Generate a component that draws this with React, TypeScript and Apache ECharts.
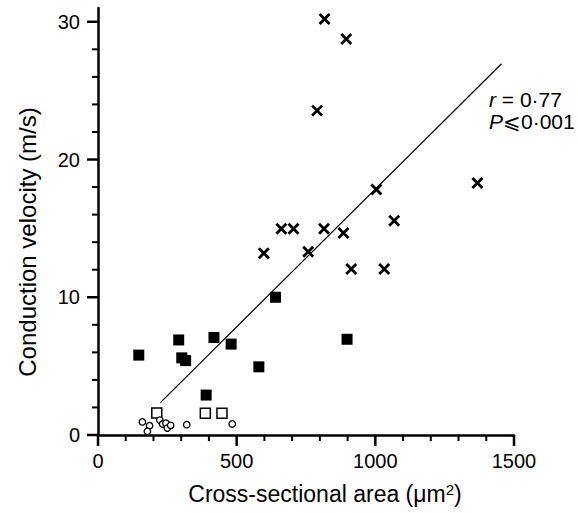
import React, { useEffect, useRef } from "react";
import * as echarts from "echarts";

// Filled squares [area, velocity]
const filledSquares: number[][] = [
  [147, 5.8], [291, 6.9], [302, 5.6], [316, 5.4], [418, 7.08],
  [480, 6.6], [580, 4.95], [640, 10.0], [390, 2.9], [898, 6.95],
];
// Open squares
const openSquares: number[][] = [
  [212, 1.6], [387, 1.57], [447, 1.57],
];
// Open circles
const openCircles: number[][] = [
  [160, 0.95], [186, 0.68], [178, 0.27], [223, 1.08], [233, 0.8],
  [245, 0.86], [250, 0.5], [262, 0.7], [320, 0.75], [484, 0.8],
];
// Crosses
const crosses: number[][] = [
  [817, 30.2], [895, 28.75], [790, 23.55], [1004, 17.82], [1368, 18.3],
  [661, 14.97], [705, 14.97], [815, 14.97], [885, 14.67], [1068, 15.55],
  [598, 13.2], [758, 13.3], [913, 12.05], [1032, 12.05],
];
// Regression line end points
const regressionLine: number[][] = [
  [225, 2.35], [1455, 26.95],
];
// Tick values
const xMajorTicks = [0, 500, 1000, 1500];
const xMinorTicks = [100, 200, 300, 400, 600, 700, 800, 900, 1100, 1200, 1300, 1400];
const yMajorTicks = [0, 10, 20, 30];
const yMinorTicks = [2, 4, 6, 8, 12, 14, 16, 18, 22, 24, 26, 28];

const annotationLines = ["{i|r} = 0·77", "{i|P}⩽0·001"];
const xTitle = "Cross-sectional area (μm{s|2})";
const yTitle = "Conduction velocity (m/s)";

const FONT = "'Liberation Sans', Arial, Helvetica, sans-serif";
const CROSS = "path://M0,0L10,10M10,0L0,10";

function tickSeries(values: number[], dir: "x" | "y", len: number, width: number) {
  return {
    type: "custom",
    silent: true,
    clip: false,
    z: 5,
    data: values.map((v) => (dir === "x" ? [v, 0] : [0, v])),
    renderItem: (_params: any, api: any) => {
      const p = api.coord([api.value(0), api.value(1)]);
      const shape =
        dir === "x"
          ? { x1: p[0], y1: p[1], x2: p[0], y2: p[1] + len }
          : { x1: p[0], y1: p[1], x2: p[0] - len, y2: p[1] };
      return { type: "line", shape, style: { stroke: "#000", lineWidth: width } };
    },
  };
}

export default function App() {
  const ref = useRef<HTMLDivElement>(null);
  useEffect(() => {
    document.body.style.margin = "0";
    const chart = echarts.init(ref.current!, undefined, { renderer: "svg" });
    chart.setOption({
      animation: false,
      backgroundColor: "#fff",
      textStyle: { fontFamily: FONT, color: "#000" },
      grid: { left: 98, right: 64, top: 8, bottom: 78 },
      xAxis: {
        type: "value",
        min: 0,
        max: 1500,
        interval: 500,
        axisLine: { show: true, onZero: false, lineStyle: { color: "#000", width: 2.5 } },
        axisTick: { show: false },
        minorTick: { show: false },
        axisLabel: { fontSize: 20, color: "#000", margin: 16, formatter: (v: number) => String(v) },
        splitLine: { show: false },
        minorSplitLine: { show: false },
      },
      yAxis: {
        type: "value",
        min: 0,
        max: 31,
        interval: 10,
        axisLine: { show: true, onZero: false, lineStyle: { color: "#000", width: 2.5 } },
        axisTick: { show: false },
        minorTick: { show: false },
        axisLabel: { fontSize: 20, color: "#000", margin: 18 },
        splitLine: { show: false },
        minorSplitLine: { show: false },
      },
      graphic: [
        {
          type: "text",
          x: 325,
          y: 494,
          style: {
            text: xTitle,
            fontSize: 23,
            fontFamily: FONT,
            fill: "#000",
            align: "center",
            verticalAlign: "middle",
            rich: { s: { fontSize: 15, verticalAlign: "top", padding: [0, 0, 9, 0], fontFamily: FONT, fill: "#000" } },
          },
        },
        {
          type: "text",
          x: 27,
          y: 242,
          rotation: Math.PI / 2,
          style: {
            text: yTitle,
            fontSize: 24,
            fontFamily: FONT,
            fill: "#000",
            align: "center",
            verticalAlign: "middle",
          },
        },
        {
          type: "text",
          left: 489,
          top: 88,
          style: {
            text: annotationLines.join("\n"),
            fontSize: 21,
            lineHeight: 22,
            fontFamily: FONT,
            fill: "#000",
            rich: { i: { fontStyle: "italic", fontSize: 21, fontFamily: FONT, fill: "#000" } },
          },
        },
      ],
      series: [
        tickSeries(xMajorTicks, "x", 11, 2.5),
        tickSeries(xMinorTicks, "x", 6, 2),
        tickSeries(yMajorTicks, "y", 11, 2.5),
        tickSeries(yMinorTicks, "y", 6, 2),
        {
          type: "line",
          data: regressionLine,
          symbol: "none",
          lineStyle: { color: "#000", width: 1.2 },
          z: 1,
        },
        {
          type: "scatter",
          data: filledSquares,
          symbol: "rect",
          symbolSize: 11,
          itemStyle: { color: "#000", opacity: 1 },
          z: 3,
        },
        {
          type: "scatter",
          data: openSquares,
          symbol: "rect",
          symbolSize: 10,
          itemStyle: { color: "#fff", borderColor: "#000", borderWidth: 1.5, opacity: 1 },
          z: 3,
        },
        {
          type: "scatter",
          data: openCircles,
          symbol: "circle",
          symbolSize: 6.5,
          itemStyle: { color: "#fff", borderColor: "#000", borderWidth: 1.3, opacity: 1 },
          z: 3,
        },
        {
          type: "scatter",
          data: crosses,
          symbol: CROSS,
          symbolSize: 10,
          itemStyle: { color: "none", borderColor: "#000", borderWidth: 2.8, opacity: 1 },
          z: 3,
        },
      ],
    });
    return () => chart.dispose();
  }, []);
  return <div ref={ref} style={{ width: 578, height: 513 }} />;
}
